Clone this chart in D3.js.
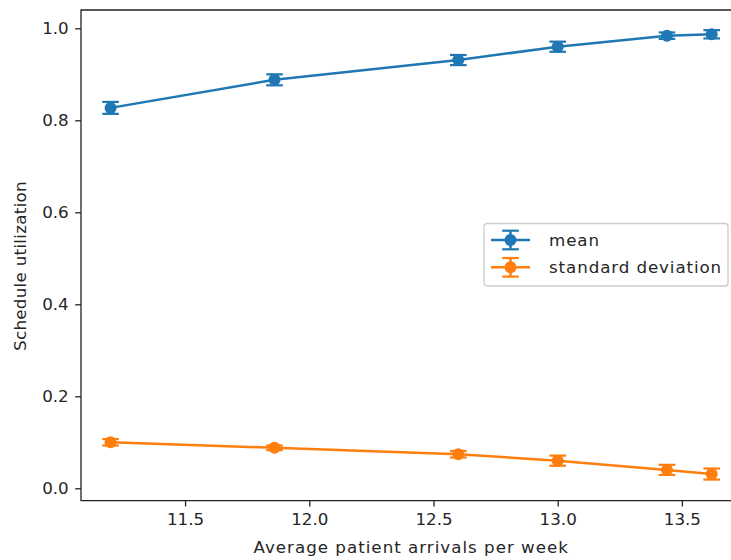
<!DOCTYPE html>
<html>
<head>
<meta charset="utf-8">
<script src="https://cdn.jsdelivr.net/npm/d3@7"></script>
<style>
  body { margin: 0; background: #fff; }
  svg { display: block; font-family: "DejaVu Sans", sans-serif; }
</style>
</head>
<body>
<svg id="chart" width="731" height="560"></svg>
<script>
// data
const arrivals = [11.2, 11.86, 12.6, 13.0, 13.44, 13.62];
const meanValues = [0.827, 0.888, 0.931, 0.960, 0.984, 0.987];
const meanErrors = [0.013, 0.012, 0.011, 0.011, 0.007, 0.009];
const stdValues = [0.100, 0.088, 0.074, 0.060, 0.040, 0.031];
const stdErrors = [0.007, 0.005, 0.007, 0.011, 0.011, 0.012];
const xTicks = [11.5, 12.0, 12.5, 13.0, 13.5];
const yTicks = [0.0, 0.2, 0.4, 0.6, 0.8, 1.0];
const seriesNames = ["mean", "standard deviation"];
const seriesColors = ["#1f77b4", "#ff7f0e"];

const svg = d3.select("#chart");

// axes box (right spine falls outside the window, like the reference)
const plotLeft = 81, plotRight = 741.5, plotTop = 10, plotBottom = 500.7;

const xScale = d3.scaleLinear()
    .domain([11.081, 13.74])
    .range([plotLeft, plotRight]);

const yScale = d3.scaleLinear()
    .domain([-0.027, 1.0398])
    .range([plotBottom, plotTop]);

const fontSize = 16.7;
const textColor = "#262626";

// x axis
const xAxis = d3.axisBottom(xScale)
    .tickValues(xTicks)
    .tickFormat(d3.format(".1f"))
    .tickSizeInner(5.8)
    .tickSizeOuter(0)
    .tickPadding(7);

const gx = svg.append("g")
    .attr("transform", `translate(0, ${plotBottom})`)
    .call(xAxis);
gx.select(".domain").remove();
gx.selectAll("line").attr("stroke", "#222").attr("stroke-width", 1.3);
gx.selectAll("text")
    .attr("font-size", fontSize)
    .attr("fill", textColor)
    .attr("font-family", "DejaVu Sans");

// y axis
const yAxis = d3.axisLeft(yScale)
    .tickValues(yTicks)
    .tickFormat(d3.format(".1f"))
    .tickSizeInner(5.8)
    .tickSizeOuter(0)
    .tickPadding(6.5);

const gy = svg.append("g")
    .attr("transform", `translate(${plotLeft}, 0)`)
    .call(yAxis);
gy.select(".domain").remove();
gy.selectAll("line").attr("stroke", "#222").attr("stroke-width", 1.3);
gy.selectAll("text")
    .attr("font-size", fontSize)
    .attr("fill", textColor)
    .attr("font-family", "DejaVu Sans");

// spines
svg.append("path")
    .attr("d", `M${plotRight},${plotTop}H${plotLeft}V${plotBottom}H${plotRight}`)
    .attr("fill", "none")
    .attr("stroke", "#222")
    .attr("stroke-width", 1.3);

// axis labels
svg.append("text")
    .attr("x", (plotLeft + plotRight) / 2)
    .attr("y", 553)
    .attr("text-anchor", "middle")
    .attr("font-size", fontSize)
    .attr("letter-spacing", 1)
    .attr("fill", textColor)
    .text("Average patient arrivals per week");

svg.append("text")
    .attr("transform", "translate(26, 266) rotate(-90)")
    .attr("text-anchor", "middle")
    .attr("font-size", fontSize)
    .attr("letter-spacing", 0.3)
    .attr("fill", textColor)
    .text("Schedule utilization");

// error bar series
const capHalf = 8.3;
function drawSeries(values, errors, color) {
    const g = svg.append("g");
    const pts = arrivals.map((x, i) => ({ x: x, y: values[i], e: errors[i] }));

    // vertical bars
    g.selectAll("line.bar")
        .data(pts)
        .enter()
        .append("line")
        .attr("class", "bar")
        .attr("x1", d => xScale(d.x))
        .attr("x2", d => xScale(d.x))
        .attr("y1", d => yScale(d.y - d.e))
        .attr("y2", d => yScale(d.y + d.e))
        .attr("stroke", color)
        .attr("stroke-width", 2.5);

    // caps
    const caps = [];
    pts.forEach(d => { caps.push({ x: d.x, y: d.y - d.e }); caps.push({ x: d.x, y: d.y + d.e }); });
    g.selectAll("line.cap")
        .data(caps)
        .enter()
        .append("line")
        .attr("class", "cap")
        .attr("x1", d => xScale(d.x) - capHalf)
        .attr("x2", d => xScale(d.x) + capHalf)
        .attr("y1", d => yScale(d.y))
        .attr("y2", d => yScale(d.y))
        .attr("stroke", color)
        .attr("stroke-width", 2.2);

    // connecting line
    const line = d3.line().x(d => xScale(d.x)).y(d => yScale(d.y));
    g.append("path")
        .datum(pts)
        .attr("d", line)
        .attr("fill", "none")
        .attr("stroke", color)
        .attr("stroke-width", 2.5);

    // markers
    g.selectAll("circle")
        .data(pts)
        .enter()
        .append("circle")
        .attr("cx", d => xScale(d.x))
        .attr("cy", d => yScale(d.y))
        .attr("r", 6)
        .attr("fill", color);
}

drawSeries(meanValues, meanErrors, seriesColors[0]);
drawSeries(stdValues, stdErrors, seriesColors[1]);

// legend
const legend = svg.append("g").attr("transform", "translate(484, 223.5)");
legend.append("rect")
    .attr("width", 244)
    .attr("height", 62.5)
    .attr("rx", 3)
    .attr("fill", "#fff")
    .attr("fill-opacity", 0.8)
    .attr("stroke", "#cccccc")
    .attr("stroke-width", 1.3);

seriesNames.forEach((name, i) => {
    const cy = 16.5 + i * 27.3;
    const item = legend.append("g").attr("transform", `translate(0, ${cy})`);
    item.append("line")
        .attr("x1", 7).attr("x2", 46).attr("y1", 0).attr("y2", 0)
        .attr("stroke", seriesColors[i]).attr("stroke-width", 2.5);
    item.append("line")
        .attr("x1", 26.5).attr("x2", 26.5).attr("y1", -9.3).attr("y2", 9.3)
        .attr("stroke", seriesColors[i]).attr("stroke-width", 2.5);
    [-9.3, 9.3].forEach(dy => {
        item.append("line")
            .attr("x1", 26.5 - capHalf).attr("x2", 26.5 + capHalf)
            .attr("y1", dy).attr("y2", dy)
            .attr("stroke", seriesColors[i]).attr("stroke-width", 2.2);
    });
    item.append("circle")
        .attr("cx", 26.5).attr("cy", 0).attr("r", 6)
        .attr("fill", seriesColors[i]);
    item.append("text")
        .attr("x", 65)
        .attr("y", 6)
        .attr("font-size", fontSize)
        .attr("letter-spacing", 0.9)
        .attr("fill", textColor)
        .text(name);
});
</script>
</body>
</html>
